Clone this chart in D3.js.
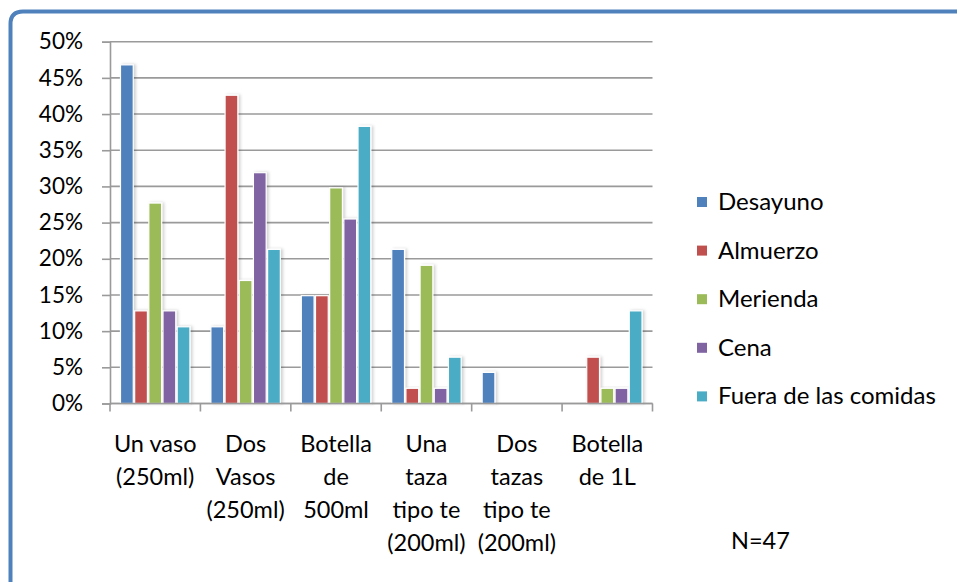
<!DOCTYPE html>
<html>
<head>
<meta charset="utf-8">
<script src="https://cdn.jsdelivr.net/npm/d3@7"></script>
<style>
  html, body { margin: 0; padding: 0; background: #fff; }
  svg { display: block; font-family: Lato, "Open Sans", sans-serif; }
</style>
</head>
<body>
<svg id="chart" width="957" height="582"></svg>
<script>
// Containers (categories), each label split over lines
const categories = [
  ["Un vaso", "(250ml)"],
  ["Dos", "Vasos", "(250ml)"],
  ["Botella", "de", "500ml"],
  ["Una", "taza", "tipo te", "(200ml)"],
  ["Dos", "tazas", "tipo te", "(200ml)"],
  ["Botella", "de 1L"]
];
const seriesNames = ["Desayuno", "Almuerzo", "Merienda", "Cena", "Fuera de las comidas"];
// Share of respondents (N=47) per meal, in percent
const desayuno = [46.8, 10.6, 14.9, 21.3, 4.3, 0];
const almuerzo = [12.8, 42.6, 14.9, 2.1, 0, 6.4];
const merienda = [27.7, 17.0, 29.8, 19.1, 0, 2.1];
const cena     = [12.8, 31.9, 25.5, 2.1, 0, 2.1];
const fuera    = [10.6, 21.3, 38.3, 6.4, 0, 12.8];
const yTicks = [0, 5, 10, 15, 20, 25, 30, 35, 40, 45, 50];
const noteText = "N=47";

const seriesValues = [desayuno, almuerzo, merienda, cena, fuera];
const colors = ["#4F81BD", "#C0504D", "#9BBB59", "#8064A2", "#4BACC6"];

const svg = d3.select("#chart");
const plot = { left: 110, right: 652.5, top: 41.7, bottom: 403.5 };

// soft shadow for bars
const defs = svg.append("defs");
const f = defs.append("filter").attr("id", "shadow")
  .attr("x", "-30%").attr("y", "-10%").attr("width", "170%").attr("height", "120%");
f.append("feDropShadow").attr("dx", 2).attr("dy", 0).attr("stdDeviation", 1.6)
  .attr("flood-color", "#000").attr("flood-opacity", 0.18);

// outer frame
svg.append("path")
  .attr("d", "M10.5,582 L10.5,24 Q10.5,11.5 23,11.5 L957,11.5")
  .attr("fill", "none").attr("stroke", "#4F81BD").attr("stroke-width", 4);

const x0 = d3.scaleBand().domain(d3.range(categories.length))
  .range([plot.left, plot.right]).paddingInner(0).paddingOuter(0);
const x1 = d3.scaleBand().domain(d3.range(seriesNames.length))
  .range([0, x0.bandwidth()]).paddingOuter(0.74).paddingInner(0.1);
const y = d3.scaleLinear().domain([0, 50]).range([plot.bottom, plot.top]);

// gridlines
svg.append("g").selectAll("line").data(yTicks).join("line")
  .attr("x1", plot.left).attr("x2", plot.right)
  .attr("y1", d => y(d)).attr("y2", d => y(d))
  .attr("stroke", "#9a9a9a").attr("stroke-width", 1.6);

// y axis
const yAxis = svg.append("g").attr("transform", `translate(${plot.left},0)`)
  .call(d3.axisLeft(y).tickValues(yTicks).tickFormat(d => d + "%").tickSize(8).tickPadding(19));
yAxis.select(".domain").attr("stroke", "#9a9a9a").attr("stroke-width", 1.6);
yAxis.selectAll(".tick line").attr("stroke", "#9a9a9a").attr("stroke-width", 1.6);
yAxis.selectAll(".tick text").attr("font-size", 22.5).attr("fill", "#000")
  .attr("font-family", "Lato, sans-serif");

// bars
const groups = svg.append("g").selectAll("g").data(categories).join("g")
  .attr("transform", (d, i) => `translate(${x0(i)},0)`);
groups.selectAll("rect")
  .data((d, i) => seriesValues.map((vals, s) => ({ s, v: vals[i] })).filter(o => o.v > 0))
  .join("rect")
  .attr("x", d => x1(d.s))
  .attr("width", x1.bandwidth())
  .attr("y", d => y(d.v))
  .attr("height", d => y(0) - y(d.v))
  .attr("fill", d => colors[d.s])
  .attr("stroke", "#fff").attr("stroke-width", 1.2)
  .attr("filter", "url(#shadow)");

// x axis
const xAxis = svg.append("g").attr("transform", `translate(0,${plot.bottom})`);
xAxis.append("line").attr("x1", plot.left).attr("x2", plot.right)
  .attr("stroke", "#9a9a9a").attr("stroke-width", 1.6);
xAxis.selectAll("line.tk").data(d3.range(categories.length + 1)).join("line")
  .attr("class", "tk")
  .attr("x1", i => i < categories.length ? x0(i) : plot.right)
  .attr("x2", i => i < categories.length ? x0(i) : plot.right)
  .attr("y1", 0).attr("y2", 8)
  .attr("stroke", "#9a9a9a").attr("stroke-width", 1.6);

const labels = svg.append("g").selectAll("text").data(categories).join("text")
  .attr("text-anchor", "middle").attr("font-size", 23.5).attr("fill", "#000")
  .attr("x", (d, i) => x0(i) + x0.bandwidth() / 2)
  .attr("y", 452);
labels.selectAll("tspan").data(d => d).join("tspan")
  .attr("x", function () { return d3.select(this.parentNode).attr("x"); })
  .attr("dy", (d, j) => j === 0 ? 0 : 33)
  .text(d => d);

// legend
const legend = svg.append("g").selectAll("g").data(seriesNames).join("g")
  .attr("transform", (d, i) => `translate(697,${202 + i * 48.6})`);
legend.append("rect").attr("x", 0).attr("y", -5).attr("width", 10).attr("height", 10)
  .attr("fill", (d, i) => colors[i]);
legend.append("text").attr("x", 21).attr("y", 8).attr("font-size", 24).attr("fill", "#000")
  .text(d => d);

// sample size note
svg.append("text").attr("x", 731).attr("y", 549).attr("font-size", 23.5).attr("fill", "#000")
  .text(noteText);
</script>
</body>
</html>
